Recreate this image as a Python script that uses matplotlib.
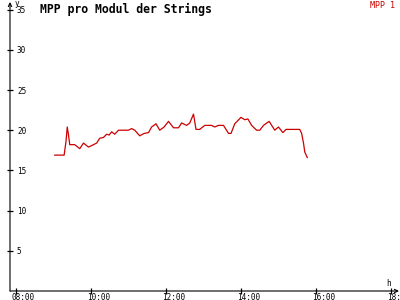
import matplotlib
matplotlib.use("Agg")
import matplotlib.pyplot as plt
from matplotlib.transforms import ScaledTranslation

# MPP per module, sampled times (HH:MM) and values (V)
times = ["09:02", "09:17", "09:20", "09:22", "09:24", "09:26", "09:34", "09:42",
         "09:48", "09:56", "10:04", "10:09", "10:14", "10:20", "10:25", "10:29",
         "10:33", "10:38", "10:44", "11:00", "11:05", "11:10", "11:18", "11:25",
         "11:32", "11:37", "11:44", "11:50", "11:57", "12:04", "12:12", "12:20",
         "12:25", "12:33", "12:38", "12:44", "12:48", "12:54", "13:02", "13:13",
         "13:18", "13:24", "13:32", "13:40", "13:44", "13:50", "14:00", "14:06",
         "14:11", "14:17", "14:25", "14:30", "14:36", "14:45", "14:54", "15:00",
         "15:07", "15:12", "15:34", "15:37", "15:40", "15:42", "15:46"]
mpp = [16.9, 16.9, 18.6, 20.4, 19.4, 18.2, 18.2, 17.7,
       18.4, 17.9, 18.2, 18.4, 19.0, 19.1, 19.5, 19.4,
       19.8, 19.5, 20.0, 20.0, 20.2, 20.0, 19.3, 19.6,
       19.7, 20.4, 20.8, 20.0, 20.4, 21.1, 20.3, 20.3,
       20.9, 20.6, 20.9, 22.0, 20.1, 20.1, 20.6, 20.6,
       20.4, 20.6, 20.6, 19.6, 19.6, 20.8, 21.6, 21.3,
       21.4, 20.6, 20.0, 20.0, 20.6, 21.1, 20.0, 20.4,
       19.7, 20.1, 20.1, 19.6, 18.4, 17.3, 16.6]
yticks = [5, 10, 15, 20, 25, 30, 35]
xticks = [8, 10, 12, 14, 16, 18]
xlabels = ["08:00", "10:00", "12:00", "14:00", "16:00", "18:00"]

hours = [int(t[:2]) + int(t[3:]) / 60 for t in times]

RED = "#cc0000"
MONO = "DejaVu Sans Mono"

fig = plt.figure(figsize=(4, 3), dpi=100, facecolor="white")
ax = fig.add_axes([10 / 400, 9 / 300, 389 / 400, 289 / 300])
ax.set_xlim(8 - 6 / 37.5, 8 + 383 / 37.5)
ax.set_ylim(0, 289 / 8.04)

ax.plot(hours, mpp, color=RED, lw=0.9)

for s in ("top", "right", "left", "bottom"):
    ax.spines[s].set_visible(False)
# axes drawn as arrows
arrow = dict(arrowstyle="->", lw=0.8, color="black", shrinkA=0, shrinkB=0,
             mutation_scale=6)
ax.annotate("", xy=(1.0, 0), xytext=(0, 0), xycoords="axes fraction",
            arrowprops=arrow)
ax.annotate("", xy=(0, 1.0), xytext=(0, 0), xycoords="axes fraction",
            arrowprops=arrow)

ax.set_yticks(yticks)
ax.set_yticklabels([str(v) for v in yticks], fontsize=5.5, family=MONO)
ax.tick_params(axis="y", direction="inout", length=5, width=0.9, pad=-7.5)
for lab in ax.get_yticklabels():
    lab.set_horizontalalignment("left")

ax.set_xticks(xticks)
ax.set_xticklabels(xlabels, fontsize=5.5, family=MONO)
ax.tick_params(axis="x", direction="inout", length=5, width=0.9, pad=-1)
shift = ScaledTranslation(-4 / 100, 0, fig.dpi_scale_trans)
for lab in ax.get_xticklabels():
    lab.set_horizontalalignment("left")
    lab.set_transform(lab.get_transform() + shift)

fig.text(15 / 400, 1 - 4 / 300, "y", fontsize=5.5, family=MONO, va="center")
fig.text(386 / 400, 1 - 283 / 300, "h", fontsize=5.5, family=MONO, va="center")
fig.text(40 / 400, 1 - 9 / 300, "MPP pro Modul der Strings", fontsize=8.3,
         family=MONO, fontweight="bold", va="center")
fig.text(395 / 400, 1 - 5 / 300, "MPP 1", fontsize=6, family=MONO,
         color=RED, ha="right", va="center")

fig.savefig("out.png", dpi=100)
